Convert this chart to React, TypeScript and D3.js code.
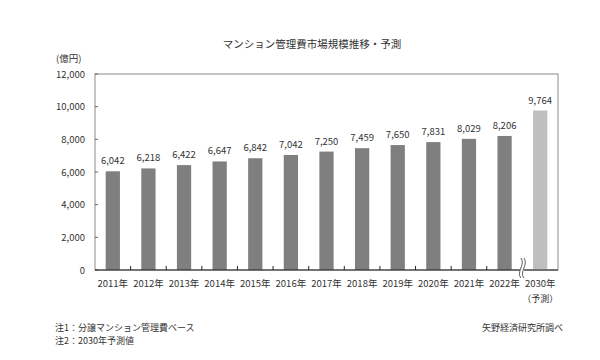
import * as d3 from 'd3'

const years = ['2011年', '2012年', '2013年', '2014年', '2015年', '2016年', '2017年', '2018年', '2019年', '2020年', '2021年', '2022年', '2030年']
const values = [6042, 6218, 6422, 6647, 6842, 7042, 7250, 7459, 7650, 7831, 8029, 8206, 9764]
const forecast = [false, false, false, false, false, false, false, false, false, false, false, false, true]
const yTicks = [0, 2000, 4000, 6000, 8000, 10000, 12000]

const title = 'マンション管理費市場規模推移・予測'
const unit = '(億円)'
const notes = ['注1：分譲マンション管理費ベース', '注2：2030年予測値']
const source = '矢野経済研究所調べ'

const W = 600
const H = 360
const left = 95
const right = 558
const top = 74
const bottom = 270
const font = '"Noto Sans CJK JP", "Noto Sans", sans-serif'

export default function App() {
  const x = d3.scaleBand<string>().domain(years).range([left, right]).paddingInner(0.6).paddingOuter(0.3)
  const y = d3.scaleLinear().domain([0, 12000]).range([bottom, top])
  const fmt = d3.format(',')
  const step = x.step()
  // break mark sits between 2022 and 2030
  const bx = left + step * 12
  const y0 = bottom - 12
  const y1 = bottom + 8
  const wave = (dx: number) => {
    const p = d3.path()
    p.moveTo(bx + dx, y0)
    p.bezierCurveTo(bx + dx + 5, y0 + 6, bx + dx - 5, y1 - 6, bx + dx, y1)
    return p.toString()
  }

  return (
    <svg width={W} height={H} style={{ position: 'absolute', left: 0, top: 0, fontFamily: font }}>
      <rect width={W} height={H} fill="#fff" />
      <text x={312} y={48} textAnchor="middle" fontSize={10.5} fill="#333">{title}</text>
      <text x={56} y={62} fontSize={9.5} fill="#333">{unit}</text>

      {/* frame */}
      <rect x={left} y={top} width={right - left} height={bottom - top} fill="none" stroke="#8c8c8c" strokeWidth={1} />

      {yTicks.map(t => (
        <g key={t}>
          <line x1={left} x2={left + 3} y1={y(t)} y2={y(t)} stroke="#666" />
          <text x={85} y={y(t) + 3.5} textAnchor="end" fontSize={9.5} fill="#333">{fmt(t)}</text>
        </g>
      ))}

      {values.map((v, i) => (
        <g key={years[i]}>
          <rect x={x(years[i])} y={y(v)} width={x.bandwidth()} height={bottom - y(v)} fill={forecast[i] ? '#bfbfbf' : '#7f7f7f'} />
          <text x={(x(years[i]) ?? 0) + x.bandwidth() / 2} y={y(v) - 7} textAnchor="middle" fontSize={9.5} fill="#333">{fmt(v)}</text>
          <text x={(x(years[i]) ?? 0) + x.bandwidth() / 2} y={287} textAnchor="middle" fontSize={9.5} fill="#333">{years[i]}</text>
        </g>
      ))}
      <text x={(x('2030年') ?? 0) + x.bandwidth() / 2} y={302} textAnchor="middle" fontSize={9} fill="#333">（予測）</text>

      <line x1={left} x2={right} y1={bottom} y2={bottom} stroke="#222" />
      {d3.range(1, 12).map(i => (
        <line key={i} x1={left + step * i} x2={left + step * i} y1={bottom} y2={bottom - 4} stroke="#222" />
      ))}

      <path d={`${wave(-1.5)} L${bx + 1.5},${y1} L${bx + 1.5},${y0} Z`} fill="#fff" stroke="none" />
      <rect x={bx - 1.5} y={bottom - 2} width={3} height={4} fill="#fff" />
      <path d={wave(-1.5)} fill="none" stroke="#333" strokeWidth={0.8} />
      <path d={wave(1.5)} fill="none" stroke="#333" strokeWidth={0.8} />

      {notes.map((n, i) => (
        <text key={n} x={55} y={331 + i * 13} fontSize={9} fill="#333">{n}</text>
      ))}
      <text x={563} y={331} textAnchor="end" fontSize={9} fill="#333">{source}</text>
    </svg>
  )
}
